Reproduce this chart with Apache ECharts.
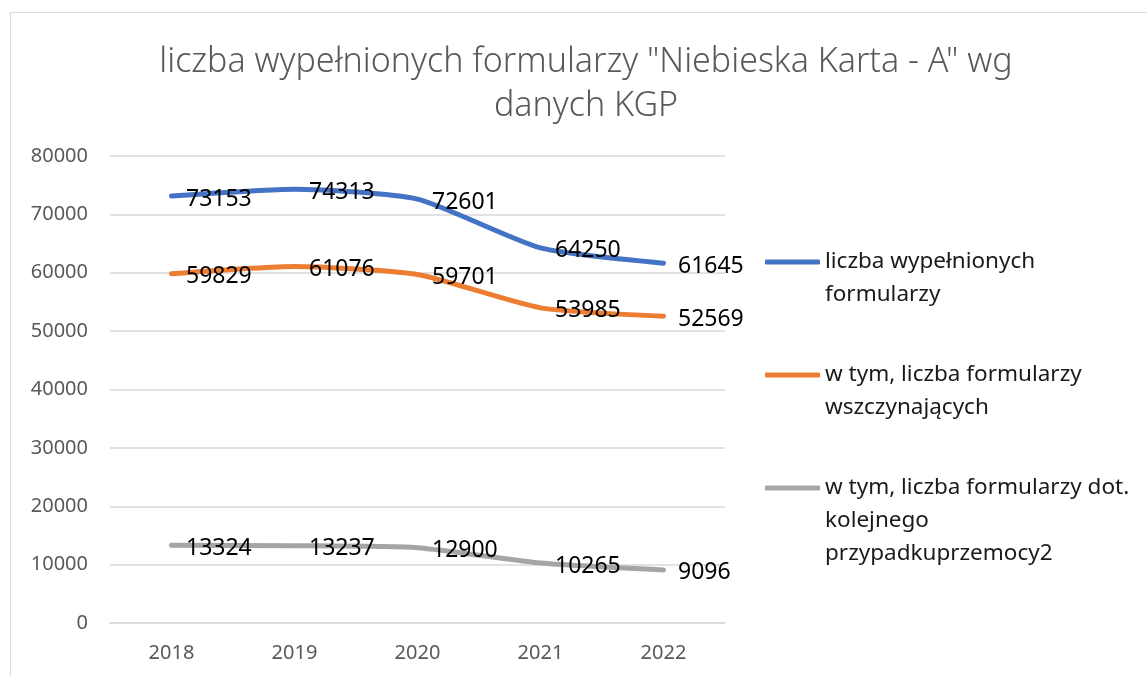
<!DOCTYPE html>
<html lang="pl">
<head>
    <meta charset="UTF-8">
    <title>Niebieska Karta</title>
    <style>
        * {
            margin: 0;
        }

        body {
            background: #fff;
            overflow: hidden;
        }

        #frame {
            position: absolute;
            left: 10px;
            top: 12px;
            width: 1200px;
            height: 700px;
            border: 1px solid #d9d9d9;
        }

        #main {
            position: absolute;
            left: 0;
            top: 0;
            width: 1147px;
            height: 676px;
        }
    </style>
    <script src="https://cdn.jsdelivr.net/npm/echarts@6/dist/echarts.min.js"></script>
</head>
<body>
<div id="frame"></div>
<div id="main"></div>
<script>
    var years = ['2018', '2019', '2020', '2021', '2022'];
    var wypelnione = [73153, 74313, 72601, 64250, 61645];
    var wszczynajace = [59829, 61076, 59701, 53985, 52569];
    var kolejne = [13324, 13237, 12900, 10265, 9096];
    var seriesNames = [
        'liczba wypełnionych formularzy',
        'w tym, liczba formularzy wszczynających',
        'w tym, liczba formularzy dot. kolejnego przypadkuprzemocy2'
    ];
    var legendText = [
        'liczba wypełnionych\nformularzy',
        'w tym, liczba formularzy\nwszczynających',
        'w tym, liczba formularzy dot.\nkolejnego\nprzypadkuprzemocy2'
    ];
    var colors = ['#4472C4', '#ED7D31', '#A5A5A5'];
    var values = [wypelnione, wszczynajace, kolejne];

    var font = 'Noto Sans';
    var lh = 33;
    var myChart = echarts.init(document.getElementById('main'));

    // one legend per series; blank lines in front keep the icon level with the first line
    var iconY = [262, 375, 488];
    var legends = seriesNames.map(function (name, i) {
        var n = legendText[i].split('\n').length;
        var pad = '';
        for (var k = 1; k < n; k++) pad += '\n';
        var total = n + n - 1;
        return {
            data: [name],
            orient: 'vertical',
            left: 765,
            top: iconY[i] - total * lh / 2,
            padding: 0,
            itemWidth: 55,
            itemHeight: 5,
            icon: 'roundRect',
            formatter: function () {
                return pad + legendText[i];
            },
            textStyle: {
                fontFamily: font,
                fontSize: 22.5,
                color: '#1a1a1a',
                lineHeight: lh
            }
        };
    });

    var series = seriesNames.map(function (name, i) {
        return {
            name: name,
            type: 'line',
            data: values[i],
            smooth: 0.2,
            symbol: 'circle',
            symbolSize: 1,
            lineStyle: {width: 5, color: colors[i], cap: 'round'},
            itemStyle: {color: colors[i]},
            label: {
                show: true,
                position: 'right',
                distance: 14,
                offset: [0, 3],
                fontFamily: font,
                fontSize: 23,
                color: '#000'
            },
            emphasis: {disabled: true}
        };
    });

    option = {
        animation: false,
        color: colors,
        title: {
            text: 'liczba wypełnionych formularzy "Niebieska Karta - A" wg\ndanych KGP',
            left: 581,
            textAlign: 'center',
            top: 35,
            textStyle: {
                fontFamily: font,
                fontWeight: 300,
                fontSize: 34,
                color: '#595959',
                lineHeight: 44,
                align: 'center'
            }
        },
        legend: legends,
        grid: {
            left: 110,
            right: 422,
            top: 156,
            bottom: 53
        },
        xAxis: {
            type: 'category',
            data: years,
            axisLine: {lineStyle: {color: '#d9d9d9', width: 1.5}},
            axisTick: {show: false},
            axisLabel: {
                fontFamily: font,
                fontSize: 20,
                color: '#595959',
                margin: 20
            }
        },
        yAxis: {
            type: 'value',
            min: 0,
            max: 80000,
            interval: 10000,
            axisLine: {show: false},
            axisTick: {show: false},
            splitLine: {lineStyle: {color: '#d9d9d9', width: 1.5}},
            axisLabel: {
                fontFamily: font,
                fontSize: 20,
                color: '#595959',
                margin: 22,
                formatter: function (v) {
                    return String(v);
                }
            }
        },
        series: series
    };
    myChart.setOption(option);
</script>
</body>
</html>
